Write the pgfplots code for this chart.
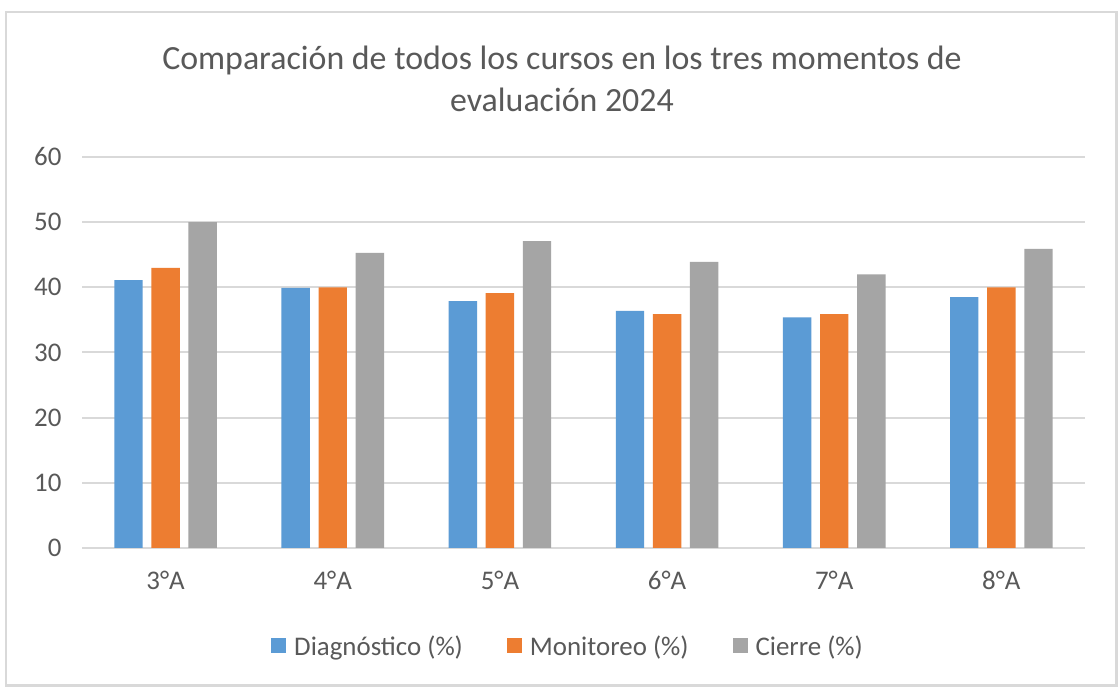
\documentclass[border=0pt]{standalone}
\usepackage{pgfplots}
\pgfplotsset{compat=1.18}
\usepackage{fontspec}
\setmainfont{Carlito}
\definecolor{cblue}{HTML}{5B9BD5}
\definecolor{corange}{HTML}{ED7D31}
\definecolor{cgray}{HTML}{A5A5A5}
\definecolor{ctext}{HTML}{595959}
\definecolor{cgrid}{HTML}{D9D9D9}
\begin{document}
\begin{tikzpicture}[x=1bp,y=1bp]
\fill[white] (0,0) rectangle (1119,687);
\draw[cgrid, line width=2.5bp] (6,1.5) rectangle (1116.5,675);
\node[text=ctext, font=\fontsize{34}{42}\selectfont, align=center] at (562,608) {Comparación de todos los cursos en los tres momentos de\\evaluación 2024};
\begin{axis}[
  at={(82bp,139bp)}, anchor=south west,
  scale only axis, width=1003bp, height=391bp,
  xmin=-0.5, xmax=5.5, ymin=0, ymax=60,
  ytick={0,10,...,60},
  xtick={0,1,2,3,4,5},
  xticklabels={3°A,4°A,5°A,6°A,7°A,8°A},
  axis line style={draw=none},
  ymajorgrids, grid style={cgrid, line width=2bp},
  major tick length=0pt,
  tick label style={text=ctext, font=\fontsize{27}{32}\selectfont},
  yticklabel style={xshift=-17bp},
  xticklabel style={yshift=-20bp},
  /pgf/number format/assume math mode=true,
  ybar, bar width=0.17,
  legend style={at={(0.4846,-0.2506)}, anchor=center, draw=none, legend columns=-1,
    font=\fontsize{27}{32}\selectfont, text=ctext,
    /tikz/every odd column/.append style={column sep=6bp},
    /tikz/every even column/.append style={column sep=42bp}},
  legend image code/.code={\fill[#1] (0bp,-7.5bp) rectangle (15bp,7.5bp);},
]
\addplot[fill=cblue, draw=none, bar shift=-0.222] coordinates {(0,41.1) (1,39.9) (2,37.9) (3,36.4) (4,35.4) (5,38.5)};
\addplot[fill=corange, draw=none, bar shift=0] coordinates {(0,43.0) (1,40.0) (2,39.1) (3,35.9) (4,35.9) (5,40.0)};
\addplot[fill=cgray, draw=none, bar shift=0.222] coordinates {(0,50.0) (1,45.3) (2,47.1) (3,43.9) (4,42.0) (5,45.9)};
\legend{Diagnóstico (\%),Monitoreo (\%),Cierre (\%)}
\end{axis}
\end{tikzpicture}
\end{document}
